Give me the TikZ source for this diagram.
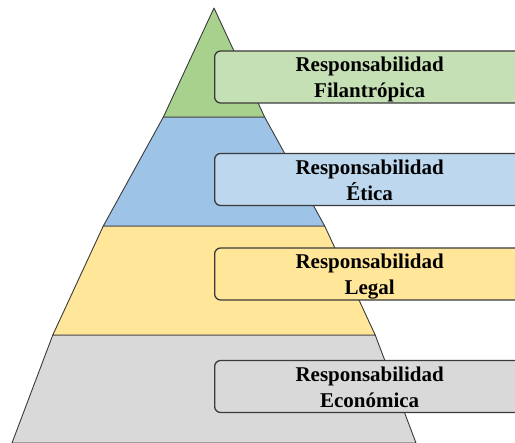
\documentclass[tikz,border=0pt]{standalone}
\usepackage{fontspec}
\setmainfont{Liberation Serif}
\definecolor{gT}{HTML}{A9D18E}
\definecolor{gB}{HTML}{C5E0B4}
\definecolor{bT}{HTML}{9DC3E6}
\definecolor{bB}{HTML}{BDD7EE}
\definecolor{yT}{HTML}{FFE699}
\definecolor{grT}{HTML}{D9D9D9}
\definecolor{edge}{HTML}{3A3A3A}
\newcommand{\twolines}[2]{\raisebox{-2.5pt}[\height][\depth]{\begin{tabular}{@{}c@{}}#1\\#2\end{tabular}}}
\begin{document}
\begin{tikzpicture}[x=1pt,y=-1pt,
  band/.style={draw=edge,line width=0.9pt,line join=round},
  label/.style={draw=edge,line width=1.3pt,rounded corners=6pt,minimum width=310pt,minimum height=51pt,
     anchor=west,inner sep=0pt,font=\fontsize{21}{26}\selectfont\bfseries,text=black}]
\useasboundingbox (0,0) rectangle (515,443);
\begin{scope}
\clip (0,0) rectangle (515,443);
% pyramid bands: apex (214,8), base at y=443 from 12 to 416
\path[band,fill=grT] (52.8,335) -- (375.2,335) -- (416,443) -- (12,443) -- cycle;
\path[band,fill=yT] (103.3,226) -- (324.7,226) -- (375.2,335) -- (52.8,335) -- cycle;
\path[band,fill=bT] (163.4,117) -- (264.6,117) -- (324.7,226) -- (103.3,226) -- cycle;
\path[band,fill=gT] (214,8) -- (264.6,117) -- (163.4,117) -- cycle;
\node[label,fill=gB] (l1) at (214,77) {\twolines{Responsabilidad}{Filantrópica}};
\node[label,fill=bB] (l2) at (214,179.5) {\twolines{Responsabilidad}{Ética}};
\node[label,fill=yT] (l3) at (214,274) {\twolines{Responsabilidad}{Legal}};
\node[label,fill=grT] (l4) at (214,386.5) {\twolines{Responsabilidad}{Económica}};
\end{scope}
\end{tikzpicture}
\end{document}
